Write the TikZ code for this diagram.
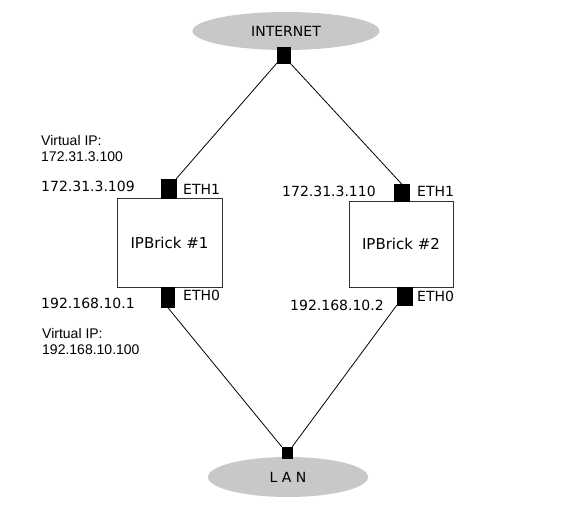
\documentclass[tikz,border=0pt]{standalone}
\usepackage{fontspec}
\setmainfont{DejaVu Sans}
\newfontfamily\lib{Liberation Sans}
\usetikzlibrary{shapes.geometric}
\definecolor{cloudgray}{RGB}{200,200,200}
\begin{document}
\begin{tikzpicture}[x=1pt,y=-1pt,
  cloud/.style={ellipse,fill=cloudgray,inner sep=0pt,font=\fontsize{14}{16}\selectfont},
  port/.style={fill=black,draw=black,inner sep=0pt,minimum width=#1},
  brick/.style={draw=black!80,line width=0.8pt,inner sep=0pt,font=\fontsize{15}{17}\selectfont},
  lbl/.style={inner sep=0pt,font=\fontsize{14}{16}\selectfont},
  vip/.style={inner sep=0pt,align=left,font=\lib\fontsize{14}{16}\selectfont},
  link/.style={draw=black,line width=0.8pt}]
\useasboundingbox (0,0) rectangle (568,511);
\fill[white] (0,0) rectangle (568,511);
% clouds
\node[cloud,minimum width=187,minimum height=38] (inet) at (286,31) {INTERNET};
\node[cloud,minimum width=160,minimum height=40] (lan) at (288,477) {L A N};
% boxes
\node[brick,minimum width=105,minimum height=89] (b1) at (169.5,242.5) {IPBrick \#1};
\node[brick,minimum width=104,minimum height=86] (b2) at (401,244) {IPBrick \#2};
% ports
\node[port=13,minimum height=16] (pi) at (283.5,55) {};
\node[port=15,minimum height=19] (e1a) at (168.5,188.5) {};
\node[port=13,minimum height=20] (e0a) at (167.5,297) {};
\node[port=15,minimum height=17] (e1b) at (401.5,192.5) {};
\node[port=15,minimum height=18] (e0b) at (404.5,296) {};
\node[port=10,minimum height=11] (pl) at (287,452.5) {};
% links
\draw[link] (pi.south west) -- (e1a.north east);
\draw[link] (pi.south east) -- (e1b.north);
\draw[link] (e0a.south) -- (pl.north west);
\draw[link] (e0b.south west) -- (pl.north east);
% labels
\node[lbl,anchor=west] (t1) at (183,189) {ETH1};
\node[lbl,anchor=west] (t2) at (183,295) {ETH0};
\node[lbl,anchor=west] (t3) at (417,191) {ETH1};
\node[lbl,anchor=west] (t4) at (417,296) {ETH0};
\node[lbl,anchor=west] (a1) at (41,186) {172.31.3.109};
\node[lbl,anchor=west] (a2) at (41,303) {192.168.10.1};
\node[lbl,anchor=west] (a3) at (282,191) {172.31.3.110};
\node[lbl,anchor=west] (a4) at (290,305) {192.168.10.2};
\node[vip,anchor=west] (v1) at (41,148) {Virtual IP:\\172.31.3.100};
\node[vip,anchor=west] (v2) at (42,341) {Virtual IP:\\192.168.10.100};
\end{tikzpicture}
\end{document}
